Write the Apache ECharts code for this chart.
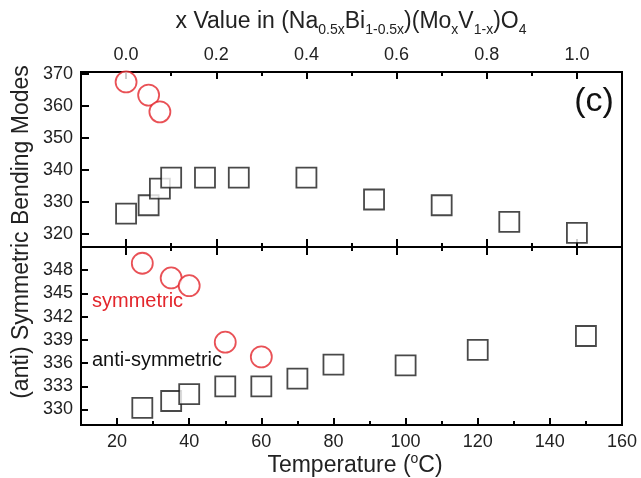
<!DOCTYPE html>
<html>
<head>
<meta charset="utf-8">
<script src="https://cdn.jsdelivr.net/npm/echarts@6/dist/echarts.min.js"></script>
<style>
  html, body { margin: 0; padding: 0; background: #fff; }
  #main { width: 641px; height: 478px; }
</style>
</head>
<body>
<div id="main"></div>
<script>
// top panel: x value in (Na0.5xBi1-0.5x)(MoxV1-x)O4
const xValues = [0, 0.05, 0.075, 0.1, 0.175, 0.25, 0.4, 0.55, 0.7, 0.85, 1.0];
const antiTop = [326.4, 329.0, 334.2, 337.6, 337.6, 337.6, 337.6, 330.8, 329.0, 323.8, 320.4];
const symTopX = [0, 0.05, 0.075];
const symTop = [367.4, 363.3, 358.1];

// bottom panel: temperature
const temps = [27, 35, 40, 50, 60, 70, 80, 100, 120, 150];
const antiBottom = [330.2, 331.1, 332.0, 333.0, 333.0, 334.0, 335.8, 335.7, 337.7, 339.5];
const symTemps = [27, 35, 40, 50, 60];
const symBottom = [348.9, 347.0, 346.0, 338.7, 336.8];

// tick labels
const xMajor = [0, 0.2, 0.4, 0.6, 0.8, 1.0];
const xMinor = [0.1, 0.3, 0.5, 0.7, 0.9];
const tMajor = [20, 40, 60, 80, 100, 120, 140, 160];
const tMinor = [30, 50, 70, 90, 110, 130, 150];
const yTopTicks = [320, 330, 340, 350, 360, 370];
const yBottomTicks = [330, 333, 336, 339, 342, 345, 348];

const FONT = "'Liberation Sans', Arial, sans-serif";
const RED = "#e3262c";
const INK = "#1b1b1b";

const chart = echarts.init(document.getElementById("main"));

// one helper for all the tick-only axes
function tickAxis(grid, pos, min, max, values, len, inside) {
  return {
    type: "value",
    gridIndex: grid,
    position: pos,
    min: min,
    max: max,
    axisLine: { show: false, onZero: false },
    splitLine: { show: false },
    axisLabel: { show: false },
    axisTick: {
      show: true,
      inside: inside,
      length: len,
      customValues: values,
      lineStyle: { color: "#000", width: 2 }
    }
  };
}

function toPoints(xs, ys) {
  return ys.map((v, i) => [xs[i], v]);
}

let option = {
  animation: false,
  grid: [
    { left: 81, right: 19, top: 72, height: 175, show: true, borderColor: "#000", borderWidth: 2 },
    { left: 81, right: 19, top: 247, height: 178, show: true, borderColor: "#000", borderWidth: 2 }
  ],
  xAxis: [
    {
      type: "value",
      gridIndex: 0,
      position: "top",
      min: -0.1,
      max: 1.1,
      axisLine: { show: false, onZero: false },
      splitLine: { show: false },
      axisTick: {
        inside: true,
        length: 7,
        customValues: xMajor,
        lineStyle: { color: "#000", width: 2 }
      },
      axisLabel: {
        customValues: xMajor,
        margin: 8,
        fontSize: 18,
        fontFamily: FONT,
        color: "#222",
        formatter: v => v.toFixed(1)
      }
    },
    tickAxis(0, "top", -0.1, 1.1, xMinor, 4, true),
    tickAxis(0, "bottom", -0.1, 1.1, xMajor, 8, true),
    tickAxis(0, "bottom", -0.1, 1.1, xMinor, 4, true),
    tickAxis(0, "bottom", -0.1, 1.1, xMajor, 8, false),
    tickAxis(0, "bottom", -0.1, 1.1, xMinor, 4, false),
    {
      type: "value",
      gridIndex: 1,
      position: "bottom",
      min: 10,
      max: 160,
      axisLine: { show: false, onZero: false },
      splitLine: { show: false },
      axisTick: {
        inside: true,
        length: 7,
        customValues: tMajor,
        lineStyle: { color: "#000", width: 2 }
      },
      axisLabel: {
        customValues: tMajor,
        margin: 8,
        fontSize: 18,
        fontFamily: FONT,
        color: "#222"
      }
    },
    tickAxis(1, "bottom", 10, 160, tMinor, 4, true)
  ],
  yAxis: [
    {
      type: "value",
      gridIndex: 0,
      min: 316,
      max: 370.5,
      axisLine: { show: false, onZero: false },
      splitLine: { show: false },
      axisTick: {
        inside: true,
        length: 8,
        customValues: yTopTicks,
        lineStyle: { color: "#000", width: 2 }
      },
      axisLabel: {
        customValues: yTopTicks,
        margin: 8,
        fontSize: 18,
        fontFamily: FONT,
        color: "#222"
      }
    },
    {
      type: "value",
      gridIndex: 1,
      min: 328,
      max: 351,
      axisLine: { show: false, onZero: false },
      splitLine: { show: false },
      axisTick: {
        inside: true,
        length: 7,
        customValues: yBottomTicks,
        lineStyle: { color: "#000", width: 2 }
      },
      axisLabel: {
        customValues: yBottomTicks,
        margin: 8,
        fontSize: 18,
        fontFamily: FONT,
        color: "#222"
      }
    }
  ],
  series: [
    {
      name: "anti-symmetric (x)",
      type: "scatter",
      xAxisIndex: 0,
      yAxisIndex: 0,
      symbol: "rect",
      symbolSize: 20,
      itemStyle: { color: "#fff", borderColor: INK, borderWidth: 1.8 },
      data: toPoints(xValues, antiTop)
    },
    {
      name: "symmetric (x)",
      type: "scatter",
      xAxisIndex: 0,
      yAxisIndex: 0,
      symbol: "circle",
      symbolSize: 21,
      itemStyle: { color: "#fff", borderColor: RED, borderWidth: 1.8 },
      data: toPoints(symTopX, symTop)
    },
    {
      name: "anti-symmetric (T)",
      type: "scatter",
      xAxisIndex: 6,
      yAxisIndex: 1,
      symbol: "rect",
      symbolSize: 20,
      itemStyle: { color: "#fff", borderColor: INK, borderWidth: 1.8 },
      data: toPoints(temps, antiBottom)
    },
    {
      name: "symmetric (T)",
      type: "scatter",
      xAxisIndex: 6,
      yAxisIndex: 1,
      symbol: "circle",
      symbolSize: 21,
      itemStyle: { color: "#fff", borderColor: RED, borderWidth: 1.8 },
      data: toPoints(symTemps, symBottom)
    }
  ],
  graphic: [
    {
      type: "text",
      x: 351,
      y: 22,
      style: {
        text: "{a|x Value in (Na}{s|0.5x}{a|Bi}{s|1-0.5x}{a|)(Mo}{s|x}{a|V}{s|1-x}{a|)O}{s|4}",
        align: "center",
        verticalAlign: "middle",
        rich: {
          a: { fontSize: 23, fontFamily: FONT, fill: "#222", lineHeight: 26 },
          s: { fontSize: 14, fontFamily: FONT, fill: "#222", lineHeight: 14, padding: [16, 0, 0, 0] }
        }
      }
    },
    {
      type: "text",
      x: 355,
      y: 466,
      style: {
        text: "{a|Temperature (}{u|o}{a|C)}",
        align: "center",
        verticalAlign: "middle",
        rich: {
          a: { fontSize: 23, fontFamily: FONT, fill: "#222", lineHeight: 26 },
          u: { fontSize: 14, fontFamily: FONT, fill: "#222", lineHeight: 14, padding: [0, 0, 14, 0] }
        }
      }
    },
    {
      type: "text",
      x: 22,
      y: 232,
      rotation: Math.PI / 2,
      style: {
        text: "(anti) Symmetric Bending Modes",
        font: "23px " + FONT,
        fill: "#222",
        align: "center",
        verticalAlign: "middle"
      }
    },
    {
      type: "text",
      left: 92,
      top: 291,
      style: { text: "symmetric", font: "20px " + FONT, fill: RED }
    },
    {
      type: "text",
      left: 92,
      top: 350,
      style: { text: "anti-symmetric", font: "20px " + FONT, fill: "#111" }
    },
    {
      type: "text",
      x: 594,
      y: 102,
      style: {
        text: "(c)",
        font: "34px " + FONT,
        fill: "#111",
        align: "center",
        verticalAlign: "middle"
      }
    }
  ]
};

chart.setOption(option);
</script>
</body>
</html>
